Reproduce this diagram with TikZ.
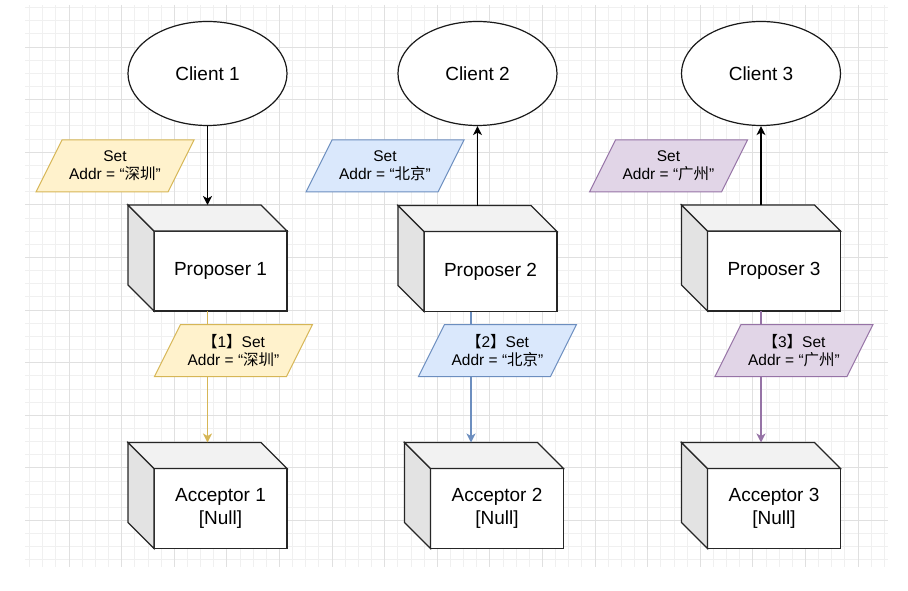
\documentclass[tikz,border=0pt]{standalone}
\usepackage{fontspec}
\setmainfont{Liberation Sans}
\newfontfamily\cjk{Noto Sans CJK SC}
\usetikzlibrary{shapes.geometric,arrows.meta}
\definecolor{yfill}{HTML}{FFF2CC}
\definecolor{yline}{HTML}{D6B656}
\definecolor{bfill}{HTML}{DAE8FC}
\definecolor{bline}{HTML}{6C8EBF}
\definecolor{pfill}{HTML}{E1D5E7}
\definecolor{pline}{HTML}{9673A6}

\begin{document}
\begin{tikzpicture}[x=1pt, y=-1pt, >={Stealth[length=9pt, width=9pt, inset=2.5pt]},
    minor/.style={draw=black!6, line width=0.8pt},
    major/.style={draw=black!12, line width=0.8pt},
    client/.style={shape=ellipse, draw=black!90, fill=white, line width=1.2pt, minimum width=159pt, minimum height=104pt, inner sep=0pt, font=\fontsize{19}{23}\selectfont},
    box/.style={draw=black!85, fill=white, line width=1.3pt, minimum width=133pt, minimum height=80pt, inner sep=0pt, outer sep=0pt, align=center, font=\fontsize{19}{23}\selectfont},
    sideface/.style={draw=black!85, fill=black!11, line width=1.3pt},
    topface/.style={draw=black!85, fill=black!5, line width=1.3pt},
    para/.style={align=center, inner sep=0pt, font=\fontsize{15.5}{18}\selectfont,
        append after command={([shift={(-79,26)}]\tikzlastnode.center) -- ++(26,-52) -- ++(132,0) -- ++(-26,52) -- cycle}},
    yel/.style={fill=yfill, draw=yline, line width=1pt},
    blu/.style={fill=bfill, draw=bline, line width=1pt},
    pur/.style={fill=pfill, draw=pline, line width=1pt}]
    \useasboundingbox (0,0) rectangle (908,591);
        \foreach \k in {0,...,65} \draw[minor] (29.55+13.15*\k,5) -- (29.55+13.15*\k,567);
        \foreach \k in {0,...,42} \draw[minor] (25,7.55+13.15*\k) -- (888,7.55+13.15*\k);
        \foreach \k in {0,...,15} \draw[major] (69+52.6*\k,5) -- (69+52.6*\k,567);
        \foreach \k in {0,...,9} \draw[major] (25,47+52.6*\k) -- (888,47+52.6*\k);
        \node[box] (p1) at (220.5,271) {Proposer 1};
        \node[box] (p2) at (490.5,271.5) {Proposer 2};
        \node[box] (p3) at (774,271) {Proposer 3};
        \node[box] (a1) at (220.5,508.5) {Acceptor 1\\{}[Null]};
        \node[box] (a2) at (497,508.5) {Acceptor 2\\{}[Null]};
        \node[box] (a3) at (774,508.5) {Acceptor 3\\{}[Null]};
        \foreach \n in {p1,p2,p3,a1,a2,a3} {
            \filldraw[sideface] (\n.north west) -- ++(-26,-26) -- ++(0,80) -- (\n.south west) -- cycle;
            \filldraw[topface] (\n.north west) -- ++(-26,-26) -- ++(133,0) -- (\n.north east) -- cycle;
        }
        \node[client] (c1) at (207.5,73.5) {Client 1};
        \node[client] (c2) at (477.5,73.5) {Client 2};
        \node[client] (c3) at (761,73.5) {Client 3};
        \coordinate (p1t) at ([shift={(-13,-26)}]p1.north);
        \coordinate (p2t) at ([shift={(-13,-26)}]p2.north);
        \coordinate (p3t) at ([shift={(-13,-26)}]p3.north);
        \coordinate (a1t) at ([shift={(-13,-26)}]a1.north);
        \coordinate (a2t) at ([shift={(-26,-26)}]a2.north);
        \coordinate (a3t) at ([shift={(-13,-26)}]a3.north);
        \draw[->, line width=1.3pt] (c1) -- (p1t);
        \draw[->, line width=1.3pt] (p2t) -- (c2);
        \draw[->, line width=1.3pt] (p3t) -- (c3);
        \draw[->, line width=1.3pt, yline] (p1.south -| a1t) -- (a1t);
        \draw[->, line width=1.3pt, bline] (p2.south -| a2t) -- (a2t);
        \draw[->, line width=1.3pt, pline] (p3.south -| a3t) -- (a3t);
        \filldraw[yel] node[para] (s1) at (115,166) {Set\\Addr = “{\cjk 深圳}”};
        \filldraw[blu] node[para] (s2) at (385,166) {Set\\Addr = “{\cjk 北京}”};
        \filldraw[pur] node[para] (s3) at (668.5,166) {Set\\Addr = “{\cjk 广州}”};
        \filldraw[yel] node[para] (m1) at (233.5,350.5) {{\cjk 【}1{\cjk 】}Set\\Addr = “{\cjk 深圳}”};
        \filldraw[blu] node[para] (m2) at (497.5,350.5) {{\cjk 【}2{\cjk 】}Set\\Addr = “{\cjk 北京}”};
        \filldraw[pur] node[para] (m3) at (794,350.5) {{\cjk 【}3{\cjk 】}Set\\Addr = “{\cjk 广州}”};
    \end{tikzpicture}
\end{document}
